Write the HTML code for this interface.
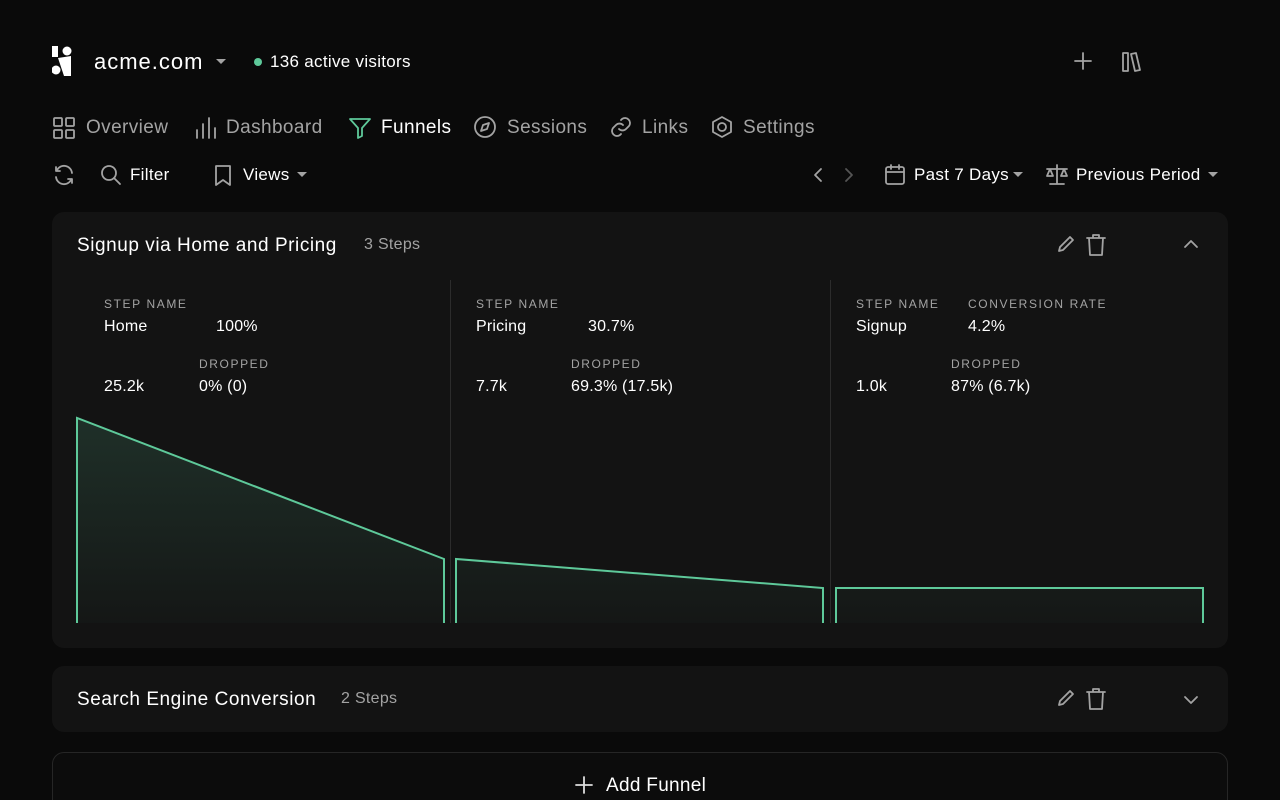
<!DOCTYPE html>
<html style="overflow:hidden;height:800px"><head><meta charset="utf-8"><style>
*{margin:0;padding:0;box-sizing:border-box}
body{width:1280px;height:800px;background:#0a0a0a;font-family:"Liberation Sans",sans-serif;color:#fff;position:relative;overflow:hidden}
.a{position:absolute;white-space:nowrap}
.g{color:#a3a3a3}
.nav{font-size:19px;color:#a3a3a3;letter-spacing:0.4px}
.lbl{font-size:12px;letter-spacing:1.6px;color:#a3a3a3}
.v{font-size:16px;color:#fff;letter-spacing:0.2px}
.t{font-size:17px;letter-spacing:0.3px}
.card{position:absolute;left:52px;width:1176px;background:#131313;border-radius:12px}
svg.i{position:absolute;fill:none;stroke:#a3a3a3;stroke-width:1.8;stroke-linecap:round;stroke-linejoin:round}
</style></head><body>
<svg class="a" style="left:52px;top:46px" width="20" height="30"><rect x="0" y="0" width="6" height="11" fill="#fff"/><circle cx="15" cy="5" r="4.5" fill="#fff"/><path d="M6 12 L19 10 L19 30 L12 30 Z" fill="#fff"/><circle cx="4" cy="24" r="4.5" fill="#fff"/></svg>
<div class="a" style="left:94px;top:49px;font-size:22px;letter-spacing:1px">acme.com</div>
<div class="a" style="left:216px;top:59px;width:0;height:0;border:5px solid transparent;border-top:5px solid #a3a3a3"></div>
<div class="a" style="left:254px;top:58px;width:8px;height:8px;border-radius:50%;background:#5ec99a"></div>
<div class="a t" style="left:270px;top:52px">136 active visitors</div>
<svg class="i" style="left:1073px;top:51px" width="20" height="20"><path d="M10 2v16M2 10h16"/></svg>
<svg class="i" style="left:1120px;top:50px" width="24" height="24"><rect x="3" y="3" width="5" height="18"/><path d="M11 4l5-1 4 17-5 1z"/></svg>

<svg class="i" style="left:52px;top:116px" width="24" height="24"><rect x="2" y="2" width="8" height="8" rx="1"/><rect x="14" y="2" width="8" height="8" rx="1"/><rect x="2" y="14" width="8" height="8" rx="1"/><rect x="14" y="14" width="8" height="8" rx="1"/></svg>
<div class="a nav" style="left:86px;top:117px">Overview</div>
<svg class="i" style="left:194px;top:116px" width="24" height="24"><path d="M3 14v8M9 8v14M15 2v20M21 12v10"/></svg>
<div class="a nav" style="left:226px;top:117px">Dashboard</div>
<svg class="i" style="left:348px;top:116px;stroke:#5ec99a" width="24" height="24"><path d="M2 3h20l-8 9v8l-4 2v-10z"/></svg>
<div class="a nav" style="left:381px;top:117px;color:#fff">Funnels</div>
<svg class="i" style="left:473px;top:115px" width="24" height="24"><circle cx="12" cy="12" r="10"/><path d="M16 8l-2 6-6 2 2-6z"/></svg>
<div class="a nav" style="left:507px;top:117px">Sessions</div>
<svg class="i" style="left:609px;top:115px" width="24" height="24"><path d="M10 14a5 5 0 007 0l3-3a5 5 0 00-7-7l-1 1M14 10a5 5 0 00-7 0l-3 3a5 5 0 007 7l1-1"/></svg>
<div class="a nav" style="left:642px;top:117px">Links</div>
<svg class="i" style="left:710px;top:115px" width="24" height="24"><path d="M12 2l9 5v10l-9 5-9-5V7z"/><circle cx="12" cy="12" r="4"/></svg>
<div class="a nav" style="left:743px;top:117px">Settings</div>

<svg class="i" style="left:52px;top:163px" width="24" height="24"><path d="M20 10a8 8 0 00-15-3M4 4v4h4M4 14a8 8 0 0015 3M20 20v-4h-4"/></svg>
<svg class="i" style="left:99px;top:163px" width="24" height="24"><circle cx="10" cy="10" r="7"/><path d="M15 15l6 6"/></svg>
<div class="a t" style="left:130px;top:165px">Filter</div>
<svg class="i" style="left:211px;top:163px" width="24" height="24"><path d="M5 3h14v19l-7-5-7 5z"/></svg>
<div class="a t" style="left:243px;top:165px">Views</div>
<div class="a" style="left:297px;top:172px;border:5px solid transparent;border-top:5px solid #a3a3a3"></div>
<svg class="i" style="left:808px;top:165px" width="20" height="20"><path d="M13 4l-6 6 6 6"/></svg>
<svg class="i" style="left:839px;top:165px;stroke:#555" width="20" height="20"><path d="M7 4l6 6-6 6"/></svg>
<svg class="i" style="left:883px;top:163px" width="24" height="24"><rect x="3" y="4" width="18" height="17" rx="2"/><path d="M3 9h18M8 2v4M16 2v4"/></svg>
<div class="a t" style="left:914px;top:165px">Past 7 Days</div>
<div class="a" style="left:1013px;top:172px;border:5px solid transparent;border-top:5px solid #a3a3a3"></div>
<svg class="i" style="left:1044px;top:162px" width="26" height="26"><path d="M13 3v19M6 22h14M3 7h20M6 7l-3 7h6zM20 7l-3 7h6z"/></svg>
<div class="a t" style="left:1076px;top:165px">Previous Period</div>
<div class="a" style="left:1208px;top:172px;border:5px solid transparent;border-top:5px solid #a3a3a3"></div>

<div class="card" style="top:212px;height:436px"></div>
<div class="a" style="left:77px;top:235px;font-size:19px;letter-spacing:0.55px">Signup via Home and Pricing</div>
<div class="a g" style="left:364px;top:236px;font-size:16px;letter-spacing:0.3px">3 Steps</div>
<svg class="i" style="left:1056px;top:234px" width="20" height="20"><path d="M3 17l1-4 10-10 3 3-10 10z"/></svg>
<svg class="i" style="left:1085px;top:233px" width="22" height="24"><path d="M2 5h18M8 5V2h6v3M4 5l1 17h12l1-17"/></svg>
<svg class="i" style="left:1182px;top:236px" width="18" height="14"><path d="M3 11l6-6 6 6"/></svg>
<div class="a" style="left:450px;top:280px;width:1px;height:343px;background:#2c2c2c"></div>
<div class="a" style="left:830px;top:280px;width:1px;height:343px;background:#2c2c2c"></div>

<div class="a lbl" style="left:104px;top:297px">STEP NAME</div>
<div class="a v" style="left:104px;top:318px">Home</div>
<div class="a v" style="left:216px;top:318px">100%</div>
<div class="a lbl" style="left:199px;top:357px">DROPPED</div>
<div class="a v" style="left:104px;top:378px">25.2k</div>
<div class="a v" style="left:199px;top:378px">0% (0)</div>

<div class="a lbl" style="left:476px;top:297px">STEP NAME</div>
<div class="a v" style="left:476px;top:318px">Pricing</div>
<div class="a v" style="left:588px;top:318px">30.7%</div>
<div class="a lbl" style="left:571px;top:357px">DROPPED</div>
<div class="a v" style="left:476px;top:378px">7.7k</div>
<div class="a v" style="left:571px;top:378px">69.3% (17.5k)</div>

<div class="a lbl" style="left:856px;top:297px">STEP NAME</div>
<div class="a lbl" style="left:968px;top:297px">CONVERSION RATE</div>
<div class="a v" style="left:856px;top:318px">Signup</div>
<div class="a v" style="left:968px;top:318px">4.2%</div>
<div class="a lbl" style="left:951px;top:357px">DROPPED</div>
<div class="a v" style="left:856px;top:378px">1.0k</div>
<div class="a v" style="left:951px;top:378px">87% (6.7k)</div>

<svg class="a" style="left:0;top:0" width="1280" height="800">
<defs><linearGradient id="gr" x1="0" y1="418" x2="0" y2="623" gradientUnits="userSpaceOnUse"><stop offset="0" stop-color="#5ec99a" stop-opacity="0.16"/><stop offset="1" stop-color="#5ec99a" stop-opacity="0.02"/></linearGradient></defs>
<g stroke="#5ec99a" stroke-width="2" fill="url(#gr)">
<path d="M77 623V418L444 559V623"/>
<path d="M456 623V559L823 588V623"/>
<path d="M836 623V588H1203V623"/>
</g></svg>

<div class="card" style="top:666px;height:66px"></div>
<div class="a" style="left:77px;top:689px;font-size:19px;letter-spacing:0.55px">Search Engine Conversion</div>
<div class="a g" style="left:341px;top:690px;font-size:16px;letter-spacing:0.3px">2 Steps</div>
<svg class="i" style="left:1056px;top:688px" width="20" height="20"><path d="M3 17l1-4 10-10 3 3-10 10z"/></svg>
<svg class="i" style="left:1085px;top:687px" width="22" height="24"><path d="M2 5h18M8 5V2h6v3M4 5l1 17h12l1-17"/></svg>
<svg class="i" style="left:1182px;top:693px" width="18" height="14"><path d="M3 4l6 6 6-6"/></svg>

<div class="a" style="left:52px;top:752px;width:1176px;height:80px;border:1px solid #262626;border-radius:12px;background:#0c0c0c"></div>
<svg class="i" style="left:574px;top:775px;stroke:#ddd" width="20" height="20"><path d="M10 2v16M2 10h16"/></svg>
<div class="a" style="left:606px;top:775px;font-size:19px;letter-spacing:0.3px">Add Funnel</div>
</body></html>
